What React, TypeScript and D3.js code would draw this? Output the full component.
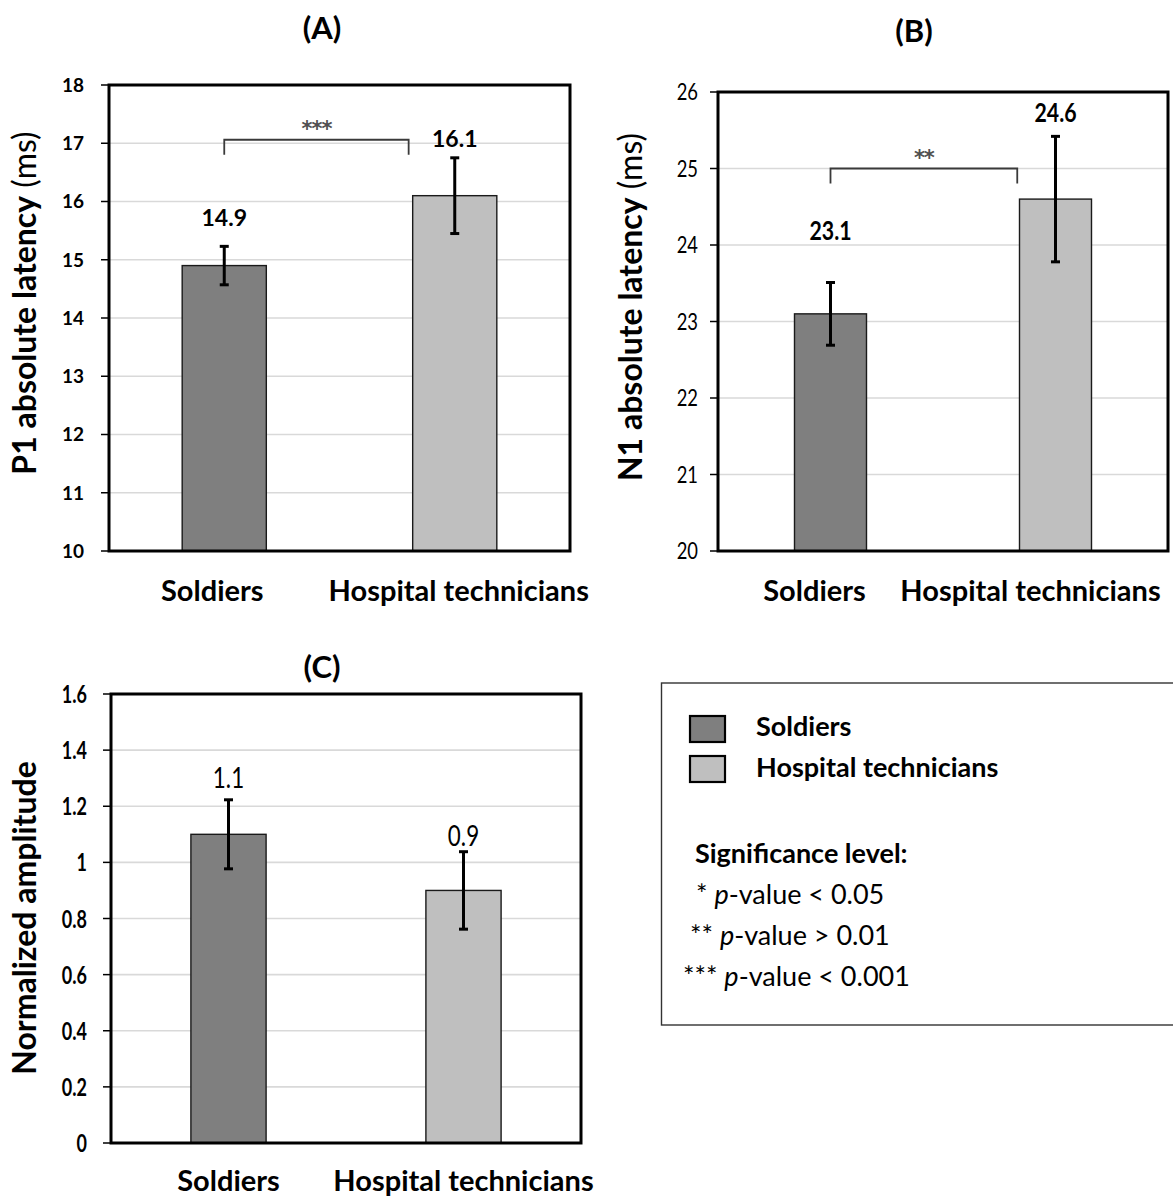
import React from "react";
import * as d3 from "d3";

// ---------- DATA ----------
const categories = ["Soldiers", "Hospital technicians"];

const p1Means = [14.9, 16.1];
const p1Errors = [0.33, 0.65];
const p1Ticks = [10, 11, 12, 13, 14, 15, 16, 17, 18];
const p1Significance = "***";
const p1BracketLevel = 17.06;

const n1Means = [23.1, 24.6];
const n1Errors = [0.41, 0.82];
const n1Ticks = [20, 21, 22, 23, 24, 25, 26];
const n1Significance = "**";
const n1BracketLevel = 25.0;

const ampMeans = [1.1, 0.9];
const ampErrors = [0.123, 0.138];
const ampTicks = [0, 0.2, 0.4, 0.6, 0.8, 1, 1.2, 1.4, 1.6];

const legendSignificance = [
  { stars: "*", op: "< 0.05" },
  { stars: "**", op: "> 0.01" },
  { stars: "***", op: "< 0.001" },
];

const barColors = ["#7f7f7f", "#bfbfbf"];
const FONT = "Lato, 'Open Sans', 'DejaVu Sans', sans-serif";

type TextStyle = { size: number; weight: number; sx: number };

type PanelCfg = {
  title: string;
  titleX: number;
  titleY: number;
  left: number;
  right: number;
  top: number;
  bottom: number;
  domain: [number, number];
  ticks: number[];
  means: number[];
  errors: number[];
  barFrac: number;
  tickFont: TextStyle;
  tickGap: number;
  labelFont: TextStyle;
  labelGaps: number[];
  xLabelOffsets: number[];
  xLabelY: number;
  yTitleBold: string;
  yTitleNormal: string;
  yTitleX: number;
  yTitleY: number;
  sig?: string;
  sigLevel?: number;
  sigEndFrac?: number;
};

const fmt = (v: number) => String(+v.toFixed(1));

function SText({
  x,
  y,
  style,
  anchor,
  children,
  fill = "#000",
}: {
  x: number;
  y: number;
  style: TextStyle;
  anchor: "start" | "middle" | "end";
  children: React.ReactNode;
  fill?: string;
}) {
  return (
    <text
      transform={`translate(${x},${y}) scale(${style.sx},1)`}
      textAnchor={anchor}
      fontFamily={FONT}
      fontSize={style.size}
      fontWeight={style.weight}
      fill={fill}
    >
      {children}
    </text>
  );
}

function Panel({ c }: { c: PanelCfg }) {
  const y = d3.scaleLinear().domain(c.domain).range([c.bottom, c.top]);
  const x = d3
    .scaleBand<string>()
    .domain(categories)
    .range([c.left, c.right])
    .padding(0);
  const bw = x.bandwidth() * c.barFrac;
  const cx = (cat: string) => (x(cat) as number) + x.bandwidth() / 2;

  let bracket: React.ReactNode = null;
  if (c.sig && c.sigLevel !== undefined) {
    const x0 = cx(categories[0]);
    const x1 = x0 + (cx(categories[1]) - x0) * (c.sigEndFrac ?? 0.8);
    const yb = y(c.sigLevel);
    bracket = (
      <g>
        <path
          d={`M${x0},${yb + 15}V${yb}H${x1}V${yb + 15}`}
          fill="none"
          stroke="#3a3a3a"
          strokeWidth={1.8}
        />
        <text
          x={(x0 + x1) / 2}
          y={yb - 4}
          textAnchor="middle"
          fontFamily="'DejaVu Sans', sans-serif"
          fontSize={21}
          fontWeight={700}
          letterSpacing={-1}
          fill="#505050"
        >
          {c.sig}
        </text>
      </g>
    );
  }

  return (
    <g>
      <text
        x={c.titleX}
        y={c.titleY}
        textAnchor="middle"
        fontFamily={FONT}
        fontSize={31}
        fontWeight={700}
      >
        {c.title}
      </text>
      {/* gridlines */}
      {c.ticks.map((t) =>
        t === c.domain[0] || t === c.domain[1] ? null : (
          <line
            key={"g" + t}
            x1={c.left}
            x2={c.right}
            y1={y(t)}
            y2={y(t)}
            stroke="#d9d9d9"
            strokeWidth={1.6}
          />
        )
      )}
      {/* tick marks + labels */}
      {c.ticks.map((t) => (
        <g key={"t" + t}>
          <line
            x1={c.left - 8}
            x2={c.left}
            y1={y(t)}
            y2={y(t)}
            stroke="#000"
            strokeWidth={1.5}
          />
          <SText
            x={c.left - c.tickGap}
            y={y(t) + c.tickFont.size * 0.36}
            style={c.tickFont}
            anchor="end"
          >
            {fmt(t)}
          </SText>
        </g>
      ))}
      {/* bars */}
      {categories.map((cat, i) => (
        <rect
          key={"b" + cat}
          x={cx(cat) - bw / 2}
          y={y(c.means[i])}
          width={bw}
          height={c.bottom - y(c.means[i])}
          fill={barColors[i]}
          stroke="#1a1a1a"
          strokeWidth={1.4}
        />
      ))}
      {/* error bars */}
      {categories.map((cat, i) => {
        const xc = cx(cat);
        const yt = y(c.means[i] + c.errors[i]);
        const yl = y(c.means[i] - c.errors[i]);
        return (
          <g key={"e" + cat} stroke="#000" strokeWidth={3}>
            <line x1={xc} x2={xc} y1={yt} y2={yl} />
            <line x1={xc - 4.5} x2={xc + 4.5} y1={yt} y2={yt} />
            <line x1={xc - 4.5} x2={xc + 4.5} y1={yl} y2={yl} />
          </g>
        );
      })}
      {/* value labels */}
      {categories.map((cat, i) => (
        <SText
          key={"l" + cat}
          x={cx(cat)}
          y={y(c.means[i] + c.errors[i]) - c.labelGaps[i]}
          style={c.labelFont}
          anchor="middle"
        >
          {fmt(c.means[i])}
        </SText>
      ))}
      {bracket}
      {/* frame */}
      <rect
        x={c.left}
        y={c.top}
        width={c.right - c.left}
        height={c.bottom - c.top}
        fill="none"
        stroke="#000"
        strokeWidth={3}
      />
      {/* x labels */}
      {categories.map((cat, i) => (
        <text
          key={"x" + cat}
          x={cx(cat) + c.xLabelOffsets[i]}
          y={c.xLabelY}
          textAnchor="middle"
          fontFamily={FONT}
          fontSize={29}
          fontWeight={700}
        >
          {cat}
        </text>
      ))}
      {/* y title */}
      <text
        transform={`translate(${c.yTitleX},${c.yTitleY}) rotate(-90)`}
        textAnchor="middle"
        fontFamily={FONT}
        fontSize={32}
      >
        <tspan fontWeight={700}>{c.yTitleBold}</tspan>
        {c.yTitleNormal ? <tspan fontWeight={400}>{c.yTitleNormal}</tspan> : null}
      </text>
    </g>
  );
}

const panelA: PanelCfg = {
  title: "(A)",
  titleX: 322,
  titleY: 39,
  left: 109,
  right: 570,
  top: 85,
  bottom: 551,
  domain: [10, 18],
  ticks: p1Ticks,
  means: p1Means,
  errors: p1Errors,
  barFrac: 0.365,
  tickFont: { size: 19, weight: 700, sx: 1 },
  tickGap: 25,
  labelFont: { size: 23, weight: 700, sx: 1 },
  labelGaps: [20, 11],
  xLabelOffsets: [-12, 4],
  xLabelY: 601,
  yTitleBold: "P1 absolute latency",
  yTitleNormal: " (ms)",
  yTitleX: 36,
  yTitleY: 303,
  sig: p1Significance,
  sigLevel: p1BracketLevel,
  sigEndFrac: 0.8,
};

const panelB: PanelCfg = {
  title: "(B)",
  titleX: 914,
  titleY: 42,
  left: 718,
  right: 1168,
  top: 92,
  bottom: 551,
  domain: [20, 26],
  ticks: n1Ticks,
  means: n1Means,
  errors: n1Errors,
  barFrac: 0.32,
  tickFont: { size: 23, weight: 400, sx: 0.8 },
  tickGap: 20,
  labelFont: { size: 26, weight: 700, sx: 0.82 },
  labelGaps: [42, 14],
  xLabelOffsets: [-16, -25],
  xLabelY: 601,
  yTitleBold: "N1 absolute latency",
  yTitleNormal: " (ms)",
  yTitleX: 642,
  yTitleY: 307,
  sig: n1Significance,
  sigLevel: n1BracketLevel,
  sigEndFrac: 0.83,
};

const panelC: PanelCfg = {
  title: "(C)",
  titleX: 322,
  titleY: 678,
  left: 111,
  right: 581,
  top: 694,
  bottom: 1143,
  domain: [0, 1.6],
  ticks: ampTicks,
  means: ampMeans,
  errors: ampErrors,
  barFrac: 0.32,
  tickFont: { size: 25, weight: 700, sx: 0.72 },
  tickGap: 24,
  labelFont: { size: 28, weight: 400, sx: 0.8 },
  labelGaps: [12, 6],
  xLabelOffsets: [0, 0],
  xLabelY: 1191,
  yTitleBold: "Normalized amplitude",
  yTitleNormal: "",
  yTitleX: 36,
  yTitleY: 918,
};

function Legend() {
  const lx = 661.5;
  return (
    <g fontFamily={FONT}>
      <rect
        x={lx}
        y={683}
        width={1173 - lx + 5}
        height={1025 - 683}
        fill="#fff"
        stroke="#333"
        strokeWidth={1.4}
      />
      {categories.map((cat, i) => (
        <g key={cat}>
          <rect
            x={690}
            y={716 + i * 40}
            width={35}
            height={26}
            fill={barColors[i]}
            stroke="#000"
            strokeWidth={2.2}
          />
          <text x={756} y={736 + i * 41} fontSize={27} fontWeight={700}>
            {cat}
          </text>
        </g>
      ))}
      <text x={695} y={863} fontSize={27} fontWeight={700}>
        Significance level:
      </text>
      {legendSignificance.map((s, i) => (
        <text
          key={s.stars}
          x={[696, 690, 683][i]}
          y={904 + i * 41}
          fontSize={27}
          fontWeight={400}
        >
          {s.stars + " "}
          <tspan fontStyle="italic">p</tspan>
          {"-value " + s.op}
        </text>
      ))}
    </g>
  );
}

export default function App() {
  return (
    <svg
      width={1173}
      height={1197}
      viewBox="0 0 1173 1197"
      style={{ position: "absolute", left: 0, top: 0, background: "#fff" }}
    >
      <rect width={1173} height={1197} fill="#fff" />
      <Panel c={panelA} />
      <Panel c={panelB} />
      <Panel c={panelC} />
      <Legend />
    </svg>
  );
}
